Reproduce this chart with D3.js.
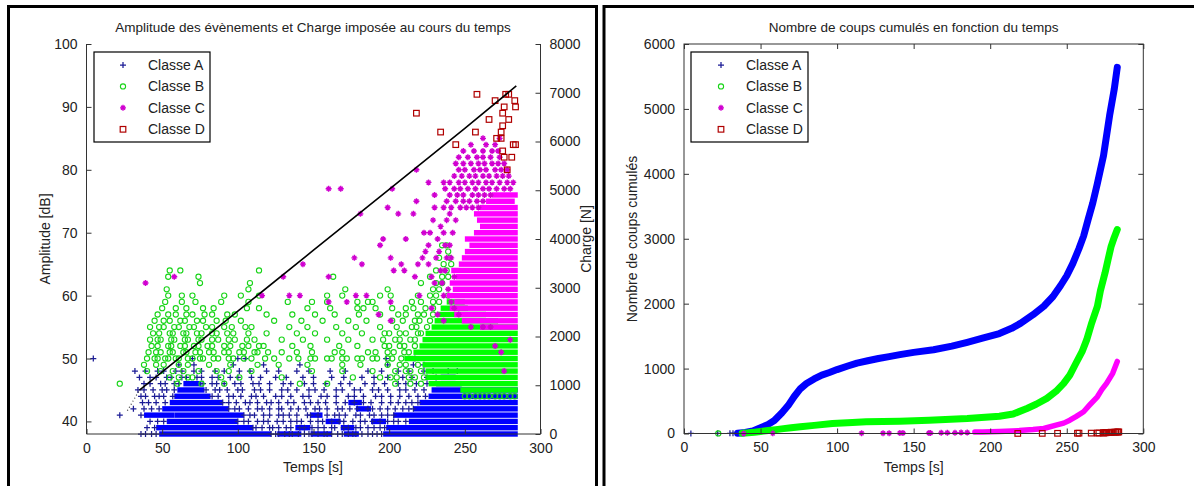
<!DOCTYPE html>
<html><head><meta charset="utf-8">
<script src="https://cdn.jsdelivr.net/npm/d3@7"></script>
<style>
body{margin:0;background:#fff;}
svg text{font-family:"Liberation Sans",Arial,Helvetica,sans-serif;fill:#222;}
</style></head><body>
<svg id="c" width="1194" height="486"></svg>
<script>
// ---------- shared tick values / labels ----------
const timeTicks = [0, 50, 100, 150, 200, 250, 300];
const ampTicks = [40, 50, 60, 70, 80, 90, 100];
const chargeTicks = [0, 1000, 2000, 3000, 4000, 5000, 6000, 7000, 8000];
const countTicks = [0, 1000, 2000, 3000, 4000, 5000, 6000];
const classNames = ["Classe A", "Classe B", "Classe C", "Classe D"];

// ---------- left chart: imposed load (charge) vs time ----------
const chargeT = [27, 35, 100, 150, 200, 250, 284];
const chargeN = [480, 900, 2520, 3770, 5020, 6270, 7140];

// dense event clusters per class: [amplitude dB, t start, t end]
const runsA = [
  [38,50,120],[38,128,140],[38,150,160],[38,172,178],[38,198,283],
  [39,48,108],[39,140,146],[39,170,175],[39,200,283],
  [40,55,98],[40,160,166],[40,190,196],[40,215,283],
  [41,40,56],[41,60,102],[41,150,154],[41,205,283],
  [42,52,92],[42,180,186],[42,218,283],
  [43,57,88],[43,175,180],[43,222,283],
  [44,60,80],[44,228,283],
  [45,62,76],[45,230,283],
  [46,66,74],[46,233,246],
  [47,236,242]
];
const runsB = [
  [45,249,283],[46,228,283],[47,226,283],[48,226,283],[49,224,283],[50,212,283],
  [51,218,283],[52,222,283],[53,224,283],[54,226,283],[55,230,283],
  [56,232,270],[57,234,262],[58,236,250],[59,240,248]
];
const runsC = [
  [55,262,283],[56,250,283],[57,245,283],[58,242,283],[59,245,283],[60,240,283],
  [61,244,283],[62,242,283],[63,246,283],[64,243,283],[65,248,283],[66,250,283],
  [67,252,283],[68,255,283],[69,252,283],[70,258,283],[71,262,283],[72,260,283],
  [73,258,283],[74,262,283],[75,266,281],[76,270,283]
];
// individual events, by amplitude row: [dB, [times s]]
const rowsA = [
  [38,[36,39,43,46,122,125,127,131,134,136,140,144,147,149,153,157,159,162,166,169,173,176,178,182,186,189,192,195]],
  [39,[40,45,110,112,116,121,123,127,132,135,141,144,149,153,157,162,164,170,173,178,181,186,190,194,197]],
  [40,[42,47,51,100,104,107,113,117,120,126,130,135,139,142,148,153,156,162,167,170,176,181,184,189,194,199,203,206,211]],
  [41,[22,36,104,108,111,117,121,127,130,134,139,146,148,153,159,164,167,171,178,181,187,190,195,199,203]],
  [42,[31,38,43,48,94,98,101,107,113,116,121,127,129,135,140,145,151,154,159,166,169,174,179,186,189,194,199,204,209,213,216]],
  [43,[37,41,46,52,90,94,99,105,108,113,119,122,127,133,137,144,148,153,158,165,171,177,183,188,195,201,206,211,215,219]],
  [44,[36,39,45,48,51,57,83,87,94,97,102,109,112,117,125,129,135,143,147,155,159,165,173,177,183,191,195,201,207,213,219,224]],
  [45,[34,38,44,50,53,58,79,85,88,93,100,103,111,115,121,129,133,139,147,151,157,165,169,177,181,189,193,199,207,211,217,223]],
  [46,[38,42,49,52,58,61,77,83,86,91,98,102,110,114,121,130,135,144,150,158,168,174,184,190,197,206,211,218,225]],
  [47,[35,42,46,53,56,63,66,73,76,83,87,95,100,109,115,125,132,143,150,162,170,182,190,199,209,215,225,231]],
  [48,[32,39,47,51,59,63,71,76,85,91,101,108,119,127,139,147,161,171,186,195,206,213,223,229,239,245]],
  [49,[61,71,97,117,141,199,216,223]],
  [50,[4.5,70,100,105,198,217]]
];
const rowsB = [
  [44,[250,253,257,260,263,266,270,273,276,280,283]],
  [46,[22,60,76,91,141,159,204,214,221]],
  [47,[55,61,67,70,89,101,129,176,194,201,205,213,217,223]],
  [48,[40,49,57,64,74,86,94,109,149,169,189,204,211,214,221]],
  [49,[38,46,51,61,67,81,95,113,127,146,169,181,199,207,211,219]],
  [50,[40,45,47,52,54,59,61,67,70,75,77,84,87,94,97,104,109,118,124,134,140,148,151,159,162,169,172,179,182,189,192,199,202,208]],
  [51,[41,46,49,55,57,64,66,72,75,81,84,91,94,101,104,111,113,120,129,139,149,164,169,186,191,199,203,210,213]],
  [52,[43,47,54,56,62,65,71,74,80,83,91,95,103,107,114,117,136,148,167,179,197,200,207,210,217]],
  [53,[42,47,49,56,58,65,67,74,76,83,87,94,98,106,111,129,143,159,173,189,196,204,207,214,217]],
  [54,[44,48,55,57,64,66,73,76,83,86,93,97,107,119,139,151,169,182,197,200,207,211,219,221]],
  [55,[42,48,51,58,61,68,71,79,83,91,96,105,109,134,146,165,178,194,205,215,218,225]],
  [56,[45,51,55,62,65,73,77,86,92,102,124,142,156,173,185,202,209,217,220,227]],
  [57,[47,54,59,66,70,78,83,93,98,119,136,151,164,180,194,206,211,219,223,229]],
  [58,[50,59,66,77,84,106,114,146,161,179,183,191,202,211,216,224,229]],
  [59,[52,63,72,89,107,133,149,159,179,186,189,215,221,229,233]],
  [60,[54,63,70,91,102,114,159,169,194,201,219,227,231,239]],
  [61,[53,107,171,199,229,233]],
  [62,[75,108,221,231,235]],
  [63,[54,74,163,227,235,239]],
  [64,[55,62,114,231,238]],
  [65,[236,241]],
  [66,[233,240]],
  [67,[239]],
  [68,[235,238]]
];
const ptsC = [[39,62],[58,63],[116,60],[130,63],[134,60],[141,60],[143,65],[160,63],[160,59],[172,59],[177,66],[181,73],[182,65],[178,60],[185,60],[193,57],[194,68],[196,69],[199,74],[206,73],[201,59],[201,56],[201,66],[203,64],[208,65],[210,64],[211,69],[216,73],[217,63],[219,65],[220,60],[223,70],[222,66],[224,67],[226,65],[229,72],[232,69],[233,67],[230,62],[234,64],[236,70],[228,58],[232,57],[236,60],[238,66],[238,72],[240,68],[242,70],[244,72],
  [226,68],[228,63],[231,66],[235,62],[237,64],[239,61],[241,66],[243,63],[227,70],[230,74],[234,71],[237,68],[240,73],[243,58],[246,57],[241,59],[236,56],
  [262,55],[267,55],[254,55],[280,53],[274,51],[276,48],[270,52]];
const rowsC = [
  [74,[236,241,247,251,255,259]],
  [75,[218,238,244,249,253,258,262]],
  [76,[230,240,245,249,255,259,263,267]],
  [77,[160,168,202,237,243,247,252,257,262,266,271,276,280]],
  [78,[226,236,240,246,250,255,259,264,268,273,278,282]],
  [79,[243,248,253,257,262,266,271,275,279]],
  [80,[218,246,250,256,260,264,270,274,278]],
  [81,[244,249,254,259,263,268,272,276]],
  [82,[246,252,258,262,267,273]],
  [83,[249,256,262,268,272]],
  [84,[254,264,270]],
  [85,[262,273]]
];
const ptsD = [[218,89],[234,86],[244,84],[258,92],[257,86],[266,88],[270,91],[271,85],[274,85],[274,86],[275,89],[276,90],[275,87],[277,92],[279,92],[279,88],[283,91],[283.5,90],[275,83],[276,82],[281,82],[278,80],[282,84],[283.5,84]];

// ---------- right chart: cumulative counts ----------
const cumA_t = [35,40,45,50,55,59,64,68,72,76,80,85,90,95,100,107,113,120,127,134,141,150,163,175,185,195,206,214,220,228,235,241,246,250,254,258,261,264,267,270,274,278,281,283];
const cumA_n = [5,15,40,90,140,200,320,430,570,690,770,840,900,940,985,1040,1085,1120,1155,1185,1215,1250,1290,1345,1405,1470,1540,1620,1700,1830,1960,2110,2280,2430,2620,2850,3040,3300,3550,3850,4280,4900,5300,5640];
const markA_t = [4.5,22,30,32];
const markA_n = [1,2,3,4];
const cumB_t = [38,42,46,50,55,60,65,70,76,85,97,110,119,130,141,160,185,206,215,224,230,237,243,248,252,256,260,263,266,270,272,275,277,279,281,283];
const cumB_n = [3,10,20,32,45,60,75,90,105,125,155,170,180,185,190,205,232,267,300,386,450,541,650,773,900,1082,1260,1442,1680,1957,2200,2473,2680,2884,3020,3142];
const markB_t = [22.4];
const markB_n = [1];
const cumC_t = [190,195,206,219,228,235,243,248,252,256,261,265,270,273,276,278,280,283];
const cumC_n = [22,25,32,45,60,77,128,160,205,260,335,440,566,680,773,850,927,1110];
const markC_t = [39,58,116,130,134,141,143,160,161,168,172,177,181,185];
const markC_n = [1,2,3,4,5,6,7,8,9,10,11,12,14,16];
const markD_t = [218,234,244,257,258,266,270,271,274,274,275,275,276,276,276,277,278,279,279,281,282,283,283.5,284];
const markD_n = [1,2,3,4,5,6,7,8,9,10,11,12,13,14,15,16,17,18,19,20,21,22,23,24];

// ---------- styles ----------
const colA = "#0000ff", colAsp = "#1c1c96";
const colB = "#00ff00", colBsp = "#18d418";
const colC = "#ff00ff", colCsp = "#d000d0";
const colD = "#b00000";

const svg = d3.select("#c");
const FONT = 14;

function marker(g, type, x, y, col) {
  if (type === "A") {
    g.append("path").attr("d", `M${x-3},${y}H${x+3}M${x},${y-3}V${y+3}`).attr("stroke", col).attr("stroke-width", 1.25).attr("fill", "none");
  } else if (type === "B") {
    g.append("circle").attr("cx", x).attr("cy", y).attr("r", 2.6).attr("stroke", col).attr("stroke-width", 1.1).attr("fill", "none");
  } else if (type === "C") {
    g.append("path").attr("d", `M${x-3},${y}H${x+3}M${x},${y-3}V${y+3}M${x-2},${y-2}L${x+2},${y+2}M${x-2},${y+2}L${x+2},${y-2}`).attr("stroke", col).attr("stroke-width", 1.4).attr("fill", "none");
  } else {
    g.append("rect").attr("x", x-2.8).attr("y", y-2.8).attr("width", 5.6).attr("height", 5.6).attr("stroke", col).attr("stroke-width", 1.2).attr("fill", "none");
  }
}

// ---------- panel frames ----------
svg.append("path").attr("d", "M8.5,486V6.5H596.5V486").attr("fill", "none").attr("stroke", "#000").attr("stroke-width", 3);
svg.append("path").attr("d", "M604,486V6.5H1194").attr("fill", "none").attr("stroke", "#000").attr("stroke-width", 3);

// ================= LEFT CHART =================
const xL = d3.scaleLinear().domain([0, 300]).range([86.5, 540.5]);
const yAmp = d3.scaleLinear().domain([38, 100]).range([434, 44]);
const yChg = d3.scaleLinear().domain([0, 8000]).range([434, 44]);
const gL = svg.append("g");

const runH = 5.4;
function drawRuns(runs, col) {
  gL.append("g").selectAll("rect").data(runs).join("rect")
    .attr("x", d => xL(d[1]) - 3)
    .attr("width", d => xL(d[2]) - xL(d[1]) + 6)
    .attr("y", d => yAmp(d[0]) - runH/2)
    .attr("height", runH)
    .attr("fill", col);
}
function drawRows(rows, type, col) {
  const g = gL.append("g");
  rows.forEach(r => r[1].forEach(t => marker(g, type, xL(t), yAmp(r[0]), col)));
}
drawRuns(runsA, colA);
drawRows(rowsA, "A", colAsp);
drawRuns(runsB, colB);
drawRows(rowsB, "B", colBsp);
drawRuns(runsC, colC);
const gC = gL.append("g");
ptsC.forEach(d => marker(gC, "C", xL(d[0]), yAmp(d[1]), colCsp));
drawRows(rowsC, "C", colCsp);
const gD = gL.append("g");
ptsD.forEach(d => marker(gD, "D", xL(d[0]), yAmp(d[1]), colD));

// charge line (first segment faint/dotted as in the source)
const chargeData = chargeT.map((t, i) => [t, chargeN[i]]);
const chLine = d3.line().x(d => xL(d[0])).y(d => yChg(d[1]));
gL.append("path").datum(chargeData.slice(0, 2)).attr("d", chLine)
  .attr("fill", "none").attr("stroke", "#333").attr("stroke-width", 1.2).attr("stroke-dasharray", "1,2.5");
gL.append("path").datum(chargeData.slice(1)).attr("d", chLine)
  .attr("fill", "none").attr("stroke", "#000").attr("stroke-width", 1.6);

// axes
const axL = gL.append("g");
axL.append("line").attr("x1", xL(0)).attr("x2", xL(300)).attr("y1", 434).attr("y2", 434).attr("stroke", "#333");
axL.append("line").attr("x1", xL(0)).attr("x2", xL(0)).attr("y1", 44).attr("y2", 434).attr("stroke", "#333");
axL.append("line").attr("x1", xL(300)).attr("x2", xL(300)).attr("y1", 44).attr("y2", 434).attr("stroke", "#333");
const fmt = d3.format("d");
axL.append("g").attr("transform", "translate(0,434)").call(d3.axisBottom(xL).tickValues(timeTicks).tickSize(-5).tickPadding(9).tickFormat(fmt));
axL.append("g").attr("transform", `translate(${xL(0)},0)`).call(d3.axisLeft(yAmp).tickValues(ampTicks).tickSize(-5).tickPadding(9).tickFormat(fmt));
axL.append("g").attr("transform", `translate(${xL(300)},0)`).call(d3.axisRight(yChg).tickValues(chargeTicks).tickSize(-5).tickPadding(9).tickFormat(fmt));

gL.append("text").attr("x", 313).attr("y", 32).attr("text-anchor", "middle").attr("font-size", 13.5).text("Amplitude des évènements et Charge imposée au cours du temps");
gL.append("text").attr("x", 313).attr("y", 472).attr("text-anchor", "middle").attr("font-size", FONT).text("Temps [s]");
gL.append("text").attr("transform", "translate(50,239) rotate(-90)").attr("text-anchor", "middle").attr("font-size", FONT).text("Amplitude [dB]");
gL.append("text").attr("transform", "translate(591,239) rotate(-90)").attr("text-anchor", "middle").attr("font-size", FONT).text("Charge [N]");

// ================= RIGHT CHART =================
const xR = d3.scaleLinear().domain([0, 300]).range([684, 1143.3]);
const yR = d3.scaleLinear().domain([0, 6000]).range([433.5, 44]);
const gR = svg.append("g");

const lineR = d3.line().x(d => xR(d[0])).y(d => yR(d[1]));
function curve(ts, ns, col, w) {
  const data = ts.map((t, i) => [t, ns[i]]);
  gR.append("path").datum(data).attr("d", lineR).attr("fill", "none").attr("stroke", col).attr("stroke-width", w).attr("stroke-linejoin", "round").attr("stroke-linecap", "round");
}
function marks(ts, ns, type, col) {
  ts.forEach((t, i) => marker(gR, type, xR(t), yR(ns[i]), col));
}
curve(cumA_t, cumA_n, colA, 7);
marks(markA_t, markA_n, "A", colAsp);
curve(cumB_t, cumB_n, colB, 7);
marks(markB_t, markB_n, "B", colBsp);
curve(cumC_t, cumC_n, colC, 5.5);
marks(markC_t, markC_n, "C", colCsp);
marks(markD_t, markD_n, "D", colD);

gR.append("rect").attr("x", xR(0)).attr("y", 44).attr("width", xR(300) - xR(0)).attr("height", 433.5 - 44).attr("fill", "none").attr("stroke", "#333");
gR.append("g").attr("transform", "translate(0,433.5)").call(d3.axisBottom(xR).tickValues(timeTicks).tickSize(-5).tickPadding(9).tickFormat(fmt));
gR.append("g").attr("transform", "translate(0,44)").call(d3.axisTop(xR).tickValues(timeTicks).tickSize(-5).tickFormat(""));
gR.append("g").attr("transform", `translate(${xR(0)},0)`).call(d3.axisLeft(yR).tickValues(countTicks).tickSize(-5).tickPadding(9).tickFormat(fmt));
gR.append("g").attr("transform", `translate(${xR(300)},0)`).call(d3.axisRight(yR).tickValues(countTicks).tickSize(-5).tickFormat(""));

gR.append("text").attr("x", 913.6).attr("y", 32).attr("text-anchor", "middle").attr("font-size", 13.5).text("Nombre de coups cumulés en fonction du temps");
gR.append("text").attr("x", 913.6).attr("y", 472).attr("text-anchor", "middle").attr("font-size", FONT).text("Temps [s]");
gR.append("text").attr("transform", "translate(637,239) rotate(-90)").attr("text-anchor", "middle").attr("font-size", FONT).text("Nombre de coups cumulés");

svg.selectAll(".domain").remove();
svg.selectAll(".tick line").attr("stroke", "#333");
svg.selectAll(".tick text").attr("font-size", FONT).attr("font-family", "Liberation Sans, Arial, sans-serif").attr("fill", "#222");

// ---------- legends ----------
function legend(x0, y0, w, h, mx, tx) {
  const g = svg.append("g");
  g.append("rect").attr("x", x0).attr("y", y0).attr("width", w).attr("height", h).attr("fill", "#fff").attr("stroke", "#000").attr("stroke-width", 1.2);
  const types = ["A", "B", "C", "D"], cols = [colAsp, colBsp, colCsp, colD];
  const rowY = d3.scaleLinear().domain([0, 3]).range([y0 + 13, y0 + 77.3]);
  classNames.forEach((n, i) => {
    marker(g, types[i], mx, rowY(i), cols[i]);
    g.append("text").attr("x", tx).attr("y", rowY(i) + 5).attr("font-size", FONT).text(n);
  });
}
legend(94, 52, 116, 90, 123, 148);
legend(691, 52, 117, 90, 721, 746);
</script>
</body></html>
